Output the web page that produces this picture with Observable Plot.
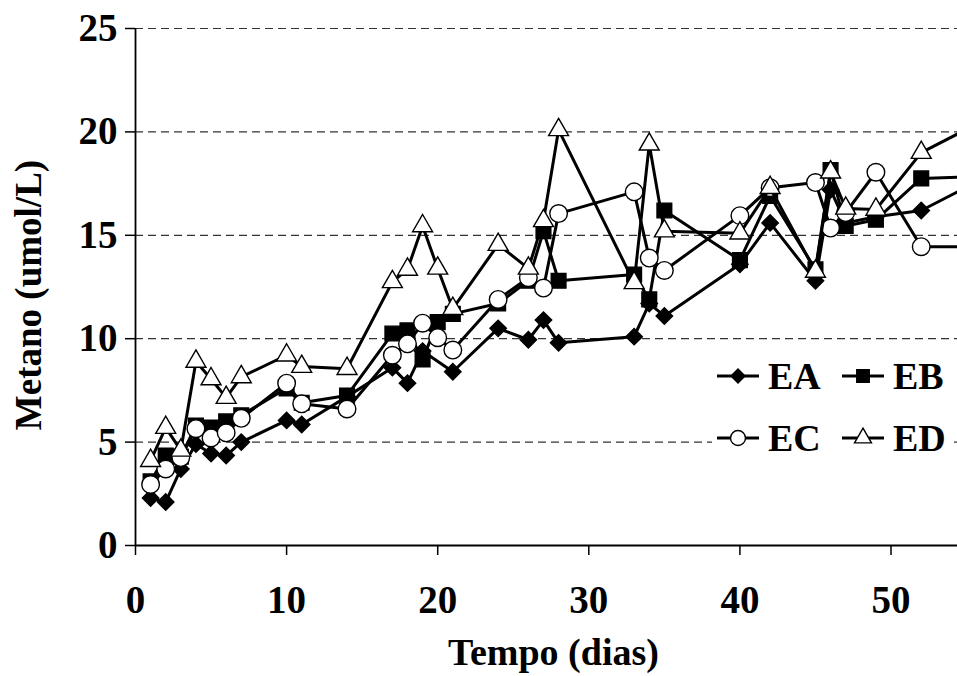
<!DOCTYPE html>
<html><head><meta charset="utf-8">
<script src="https://cdn.jsdelivr.net/npm/d3@7"></script>
<script src="https://cdn.jsdelivr.net/npm/@observablehq/plot@0.6"></script>
<style>
body{margin:0;background:#fff;}
#wrap{position:relative;width:957px;height:676px;overflow:hidden;}
#legend{position:absolute;left:712px;top:348px;width:240px;height:122px;background:#fff;}
</style></head><body><div id="wrap"></div>
<script>
// Sampling days (last one lies beyond the visible axis, the lines run off the right edge)
const days = [1,2,3,4,5,6,7,10,11,14,17,18,19,20,21,24,26,27,28,33,34,35,40,42,45,46,47,49,52,56];
const EA = [2.3,2.1,3.7,4.9,4.45,4.35,5.0,6.05,5.85,7.2,8.6,7.85,9.4,null,8.4,10.5,9.95,10.9,9.8,10.1,11.7,11.1,13.6,15.6,12.8,17.2,15.6,15.9,16.2,17.7];
const EB = [3.1,4.35,4.3,5.8,5.7,6.0,6.3,7.6,6.9,7.25,10.25,10.4,9.0,10.8,11.2,11.7,12.8,15.2,12.8,13.1,11.9,16.2,13.8,16.9,13.35,18.15,15.45,15.75,17.75,17.85];
const EC = [2.95,3.7,4.25,5.65,5.2,5.45,6.15,7.85,6.85,6.6,9.2,9.75,10.75,10.05,9.45,11.9,12.95,12.45,16.05,17.1,13.9,13.3,15.95,17.3,17.55,15.35,16.1,18.05,14.45,14.45];
const ED = [4.1,5.7,4.6,8.9,8.05,7.15,8.15,9.2,8.65,8.55,12.75,13.35,15.45,13.4,11.45,14.55,13.4,15.7,20.1,12.7,19.4,15.2,15.1,17.3,13.25,18.05,16.3,16.25,19.0,20.5];
const seriesNames = ["EA","EB","EC","ED"];
const yTicks = [0,5,10,15,20,25];
const gridTicks = [5,10,15,20,25];
const xTicks = [0,10,20,30,40,50];
const xTitle = "Tempo (dias)";
const yTitle = "Metano (umol/L)";

const seriesValues = {EA, EB, EC, ED};
const symbols = {EA:"diamond2", EB:"square", EC:"circle", ED:"triangle"};
const fills = {EA:"black", EB:"black", EC:"white", ED:"white"};
const radii = {EA:7.4, EB:8.3, EC:8.8, ED:7.4};

const rows = seriesNames.flatMap(s => days.map((d,i) => ({day:d, value:seriesValues[s][i], series:s})).filter(r => r.value != null));

const font = "'Liberation Serif', 'Times New Roman', Times, serif";
const marks = [
  Plot.gridY(gridTicks, {stroke:"#333", strokeOpacity:1, strokeWidth:1.2, strokeDasharray:"8,5"}),
  Plot.axisY(yTicks, {tickSize:10, tickPadding:8, tickFormat:d=>d, fontSize:39, fontWeight:"bold", fontFamily:font, label:null, strokeWidth:1.5}),
  Plot.axisX(xTicks, {tickSize:10, tickPadding:30, tickFormat:d=>d, fontSize:39, fontWeight:"bold", fontFamily:font, label:null, strokeWidth:1.5}),
  Plot.ruleX([0], {stroke:"black", strokeWidth:1.8}),
  Plot.ruleY([0], {stroke:"black", strokeWidth:1.8}),
  Plot.text([yTitle], {frameAnchor:"left", dx:-106, dy:8, rotate:-90, fontSize:37, fontWeight:"bold", fontFamily:font, lineAnchor:"middle", textAnchor:"middle"}),
  Plot.text([xTitle], {frameAnchor:"bottom", dy:119, dx:7, fontSize:38, fontWeight:"bold", fontFamily:font, lineAnchor:"bottom", textAnchor:"middle"})
];
for (const s of seriesNames) {
  const data = rows.filter(r => r.series === s);
  marks.push(Plot.line(data, {x:"day", y:"value", stroke:"black", strokeWidth:3, clip:true}));
  marks.push(Plot.dot(data, {x:"day", y:"value", symbol:symbols[s], r:radii[s], fill:fills[s], stroke:"black", strokeWidth:1.4, clip:true}));
}

const chart = Plot.plot({
  width:957, height:676,
  marginLeft:135, marginRight:0, marginTop:28, marginBottom:131,
  x:{domain:[0,54.4]},
  y:{domain:[0,25]},
  style:{fontFamily:font, background:"white", color:"black"},
  marks
});
document.getElementById("wrap").appendChild(chart);

// Legend (inside the plot area, white box)
const legend = document.createElement("div");
legend.id = "legend";
document.getElementById("wrap").appendChild(legend);
const lsvg = d3.select(legend).append("svg").attr("width",240).attr("height",122);
const symMap = {EA:d3.symbolDiamond2, EB:d3.symbolSquare, EC:d3.symbolCircle, ED:d3.symbolTriangle};
const legendPos = {EA:[5,28], EB:[130,28], EC:[5,90], ED:[130,90]};
for (const s of seriesNames) {
  const [lx, ly] = legendPos[s];
  const g = lsvg.append("g").attr("transform", `translate(${lx},${ly})`);
  g.append("line").attr("x1",0).attr("x2",42).attr("y1",0).attr("y2",0).attr("stroke","black").attr("stroke-width",3);
  const r = radii[s] * 0.85;
  g.append("path").attr("d", d3.symbol(symMap[s], Math.PI*r*r)()).attr("transform","translate(21,0)")
    .attr("fill", fills[s]).attr("stroke","black").attr("stroke-width",1.4);
  g.append("text").attr("x",51).attr("y",0).attr("dy","0.35em").text(s)
    .attr("font-family",font).attr("font-weight","bold").attr("font-size",38);
}
</script></body></html>
